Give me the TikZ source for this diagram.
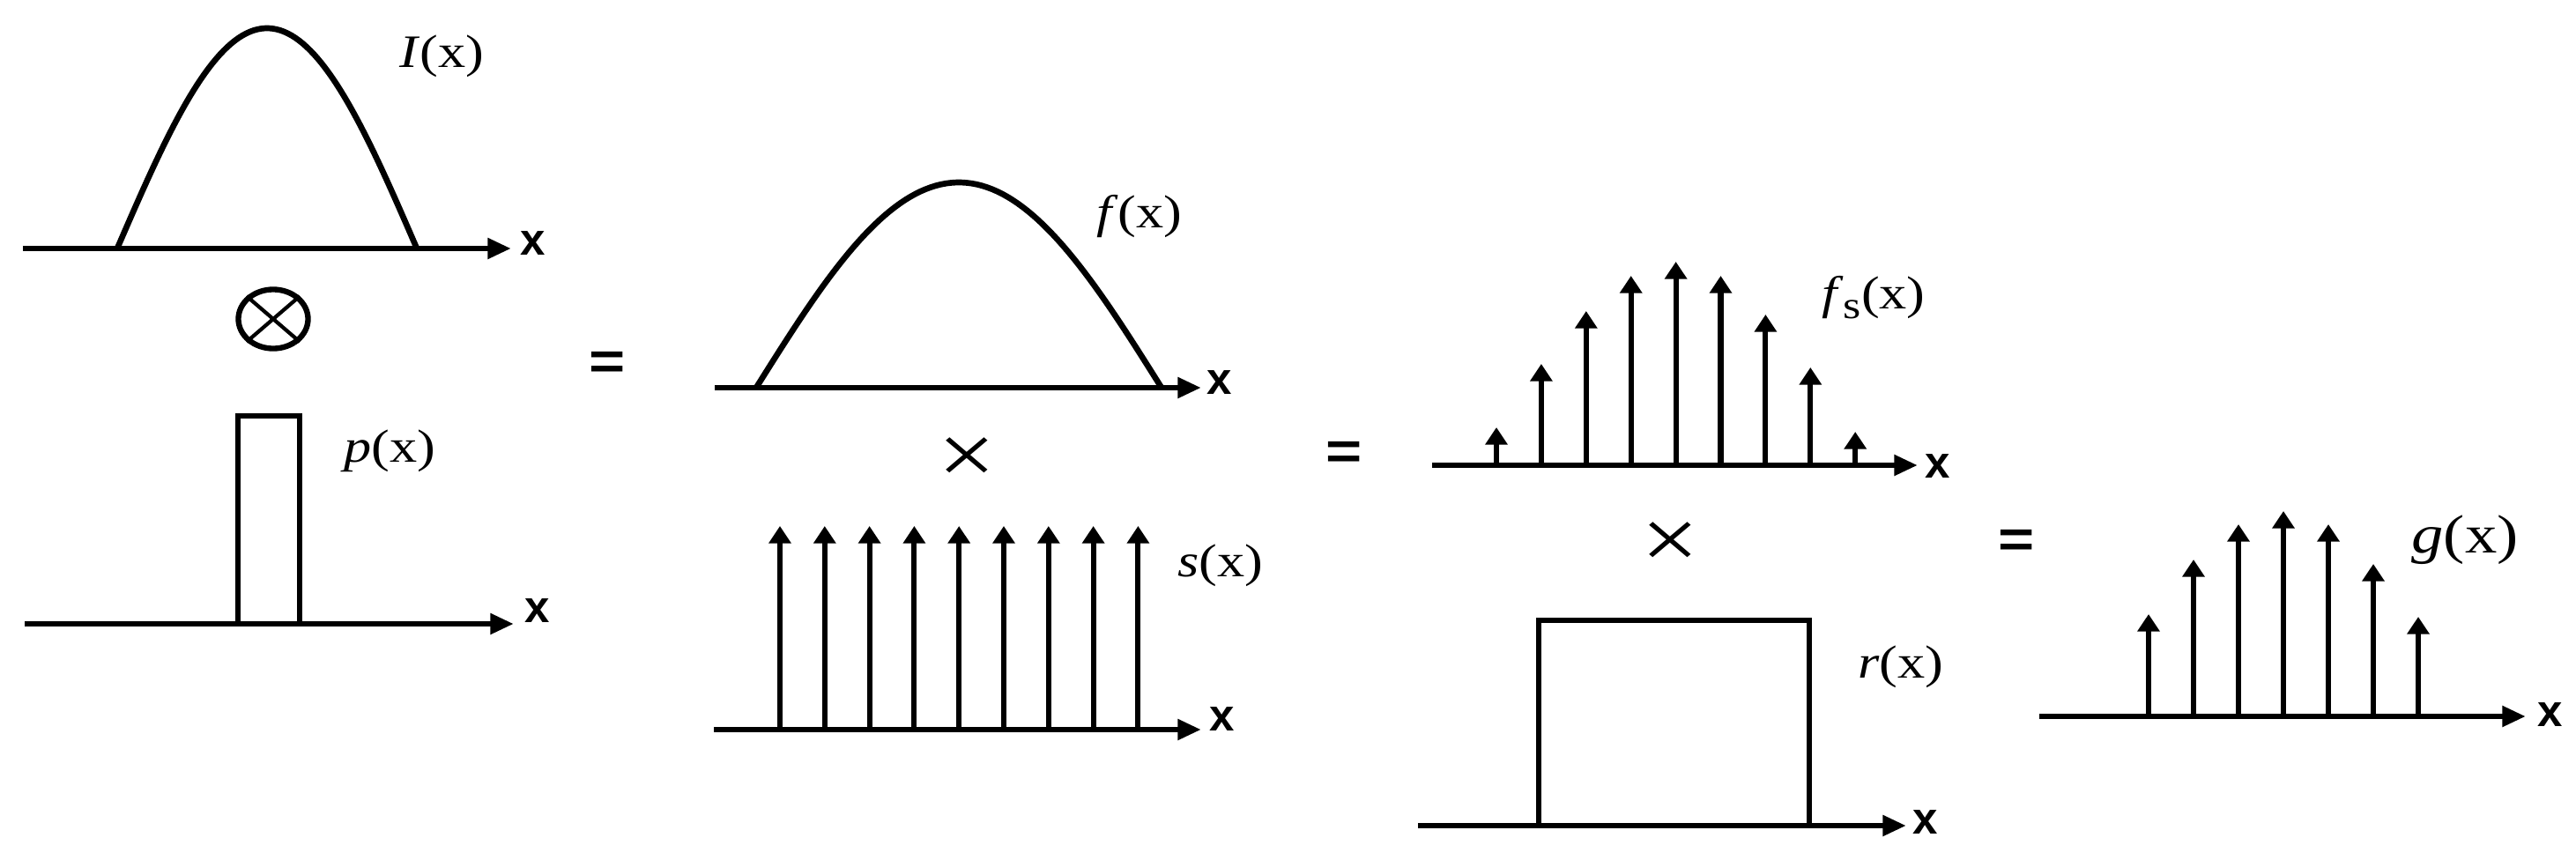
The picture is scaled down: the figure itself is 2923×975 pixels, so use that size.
\documentclass[tikz,border=0pt]{standalone}
\usepackage{fontspec}
\setmainfont{Liberation Serif}
\newfontfamily\lblfont{Liberation Serif}[FakeStretch=1.18]
\newfontfamily\axfont{Liberation Sans}
\newfontfamily\opfont{Liberation Sans}[FakeStretch=1.18]
\usetikzlibrary{arrows.meta,shapes.geometric}
\begin{document}
\begin{tikzpicture}[x=0.01cm,y=-0.01cm,
  axis/.style={line width=1.9pt,-{Triangle[length=7.6pt,width=6.4pt]}},
  spike/.style={line width=1.75pt,-{Triangle[length=5.6pt,width=7pt]}},
  curve/.style={line width=1.9pt,line join=round},
  boxline/.style={line width=1.75pt,line join=miter},
  lbl/.style={inner sep=0pt,font=\lblfont\fontsize{15}{15}\selectfont},
  biglbl/.style={inner sep=0pt,font=\lblfont\fontsize{17.5}{17.5}\selectfont},
  axlbl/.style={inner sep=0pt,font=\axfont\bfseries\fontsize{14.5}{14.5}\selectfont},
  eqsign/.style={inner sep=0pt,font=\opfont\bfseries\fontsize{17}{17}\selectfont},
  mulsign/.style={inner sep=0pt,font=\lblfont\fontsize{28}{28}\selectfont},
  convring/.style={draw,ellipse,line width=1.8pt,inner sep=0pt,minimum width=0.79cm,minimum height=0.67cm},
  crossline/.style={line width=1.2pt}
]
\useasboundingbox (0,0) rectangle (2923,975);

% ---------- panel 1 : I(x)
\draw[curve] plot[domain=-1:1,samples=80] ({303+170*\x},{282-250*cos(90*\x)});
\coordinate (a1s) at (26,282); \coordinate (a1e) at (580,282);
\draw[axis] (a1s) -- (a1e);
\node[axlbl] (x1) at (605,276) {x};
\node[lbl] (lI) at (501,64) {\textit{I}(x)};

% convolution symbol
\node[convring] (conv) at (310,362) {};
\draw[crossline] (conv.north east) -- (conv.south west);
\draw[crossline] (conv.north west) -- (conv.south east);

% ---------- panel 2 : p(x)
\draw[boxline] (270,708) -- (270,472) -- (340,472) -- (340,708);
\coordinate (a2s) at (28,708); \coordinate (a2e) at (583,708);
\draw[axis] (a2s) -- (a2e);
\node[axlbl] (x2) at (610,693) {x};
\node[lbl] (lp) at (442,512) {\textit{p}(x)};

\node[eqsign] (eq1) at (689,415) {=};

% ---------- panel 3 : f(x)
\draw[curve] plot[domain=-1:1,samples=80] ({1088+230*\x},{440-233*cos(90*\x)});
\coordinate (a3s) at (811,440); \coordinate (a3e) at (1363,440);
\draw[axis] (a3s) -- (a3e);
\node[axlbl] (x3) at (1384,434) {x};
\node[lbl] (lf) at (1293,246) {\textit{f}(x)};

\node[mulsign] (mul1) at (1097,523) {×};

% ---------- panel 4 : s(x)
\coordinate (a4s) at (810,828); \coordinate (a4e) at (1363,828);
\draw[axis] (a4s) -- (a4e);
\foreach \i in {0,...,8}{
  \draw[spike] ({885+50.8*\i},828) -- ({885+50.8*\i},597);
}
\node[axlbl] (x4) at (1387,816) {x};
\node[lbl] (ls) at (1385,642) {\textit{s}(x)};

\node[eqsign] (eq2) at (1525,517) {=};

% ---------- panel 5 : f_s(x)
\coordinate (a5s) at (1625,528); \coordinate (a5e) at (2176,528);
\draw[axis] (a5s) -- (a5e);
\foreach \i/\t in {0/485,1/413,2/353,3/313,4/297,5/313,6/357,7/417,8/490}{
  \draw[spike] ({1698+50.9*\i},528) -- ({1698+50.9*\i},\t);
}
\node[axlbl] (x5) at (2199,529) {x};
\node[lbl] (lfs) at (2126,338) {\textit{f}\raisebox{-3pt}{\fontsize{12.5}{12.5}\selectfont s}(x)};

\node[mulsign] (mul2) at (1895,619) {×};

% ---------- panel 6 : r(x)
\draw[boxline] (1746,937) -- (1746,704) -- (2053,704) -- (2053,937);
\coordinate (a6s) at (1609,937); \coordinate (a6e) at (2163,937);
\draw[axis] (a6s) -- (a6e);
\node[axlbl] (x6) at (2185,933) {x};
\node[lbl] (lr) at (2157,757) {\textit{r}(x)};

\node[eqsign] (eq3) at (2288,617) {=};

% ---------- panel 7 : g(x)
\coordinate (a7s) at (2314,813); \coordinate (a7e) at (2866,813);
\draw[axis] (a7s) -- (a7e);
\foreach \i/\t in {0/697,1/635,2/595,3/580,4/595,5/640,6/700}{
  \draw[spike] ({2438+51*\i},813) -- ({2438+51*\i},\t);
}
\node[axlbl] (x7) at (2894,811) {x};
\node[biglbl] (lg) at (2797,613) {\textit{g}(x)};
\end{tikzpicture}
\end{document}
